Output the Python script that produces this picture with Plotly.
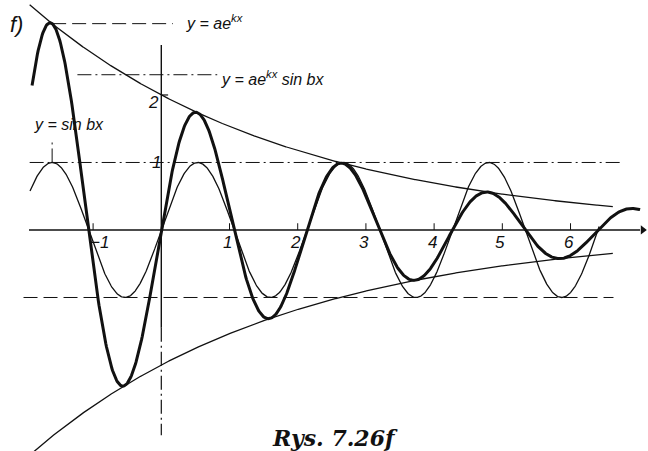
import numpy as np
import plotly.graph_objects as go

# Curve parameters: y = a e^{kx},  y = sin bx,  y = a e^{kx} sin bx
a = 2.0
k = -0.265
b = 2.944

# Drawn x-intervals of each curve
envelope_span = [-1.93, 6.62]
sine_span = [-1.925, 6.42]
product_span = [-1.895, 7.02]

# Axis ticks and their labels
x_ticks = [-1, 1, 2, 3, 4, 5, 6]
x_tick_labels = ["\u22121", "1", "2", "3", "4", "5", "6"]
y_ticks = [1, 2]
y_tick_labels = ["1", "2"]

# Plot window (data units)
X_RANGE = [-2.365, 7.136]
Y_RANGE = [-3.274, 3.407]

INK = "#111111"
FONT_LABEL = "Liberation Sans"


def grid(span, n=900):
    return np.linspace(span[0], span[1], n)


xe = grid(envelope_span)
xs = grid(sine_span)
xp = grid(product_span)

upper = a * np.exp(k * xe)
lower = -a * np.exp(k * xe)
sine = np.sin(b * xs)
product = a * np.exp(k * xp) * np.sin(b * xp)

fig = go.Figure()

# envelopes
fig.add_trace(go.Scatter(x=xe, y=upper, mode="lines",
                         line=dict(color=INK, width=1.3), hoverinfo="skip"))
fig.add_trace(go.Scatter(x=xe, y=lower, mode="lines",
                         line=dict(color=INK, width=1.3), hoverinfo="skip"))
# y = sin bx
fig.add_trace(go.Scatter(x=xs, y=sine, mode="lines",
                         line=dict(color=INK, width=1.3), hoverinfo="skip"))
# y = a e^{kx} sin bx
fig.add_trace(go.Scatter(x=xp, y=product, mode="lines",
                         line=dict(color=INK, width=3.0), hoverinfo="skip"))

# arrowhead at the end of the x axis
fig.add_trace(go.Scatter(x=[7.06], y=[0], mode="markers",
                         marker=dict(symbol="triangle-right", size=8, color=INK),
                         hoverinfo="skip"))

DASH = "14px,6px"
DASHDOT = "14px,4px,2px,4px"

shapes = []


def seg(x0, y0, x1, y1, width=1.2, dash=None):
    line = dict(color=INK, width=width)
    if dash:
        line["dash"] = dash
    shapes.append(dict(type="line", xref="x", yref="y",
                       x0=x0, y0=y0, x1=x1, y1=y1, line=line))


# x axis
seg(-1.94, 0, 7.02, 0, width=1.4)
# y axis: solid upper part, dash-dotted lower part
seg(0, 2.74, 0, -1.45, width=1.4)
seg(0, -1.45, 0, -3.04, width=1.2, dash=DASHDOT)

# x tick marks
for t in x_ticks:
    seg(t, 0, t, 0.10, width=1.0)
# y tick mark at 2
seg(0, 2, 0.10, 2, width=1.2)

# guide lines at sin bx = +1 and -1
seg(-1.93, 1, 6.75, 1, width=1.0, dash=DASHDOT)
seg(-2.02, -1, 6.63, -1, width=1.0, dash=DASH)

# leader lines to the labels
x_top = (np.pi / 2 - 2 * np.pi) / b          # where sin bx = 1 on the left
y_top = a * np.exp(k * x_top)
seg(x_top, y_top, 0.17, y_top, width=1.0, dash=DASH)
seg(-1.23, 2.30, 0.82, 2.30, width=1.0, dash=DASHDOT)
seg(x_top, 1.0, x_top, 1.34, width=1.0, dash=DASHDOT)

annotations = []


def label(text, x, y, size=14, xanchor="left", xshift=0, yshift=0,
          family=FONT_LABEL, xref="x", yref="y"):
    annotations.append(dict(text=text, x=x, y=y, xref=xref, yref=yref,
                            showarrow=False, xanchor=xanchor, yanchor="middle",
                            xshift=xshift, yshift=yshift,
                            font=dict(family=family, size=size, color=INK)))


label("<i>y = ae<sup>kx</sup></i>", 0.34, 3.08, size=16)
label("<i>y = ae<sup>kx</sup> sin bx</i>", 0.85, 2.25, size=16)
label("<i>y = sin bx</i>", -1.90, 1.57, size=16)

for t, s in zip(x_ticks, x_tick_labels):
    dx = 6 if t < 0 else -2
    label(f"<i>{s}</i>", t, 0, size=17, xanchor="center", xshift=dx, yshift=-13)

label(f"<i>{y_tick_labels[0]}</i>", 0, y_ticks[0], size=17, xanchor="center", xshift=-5)
label(f"<i>{y_tick_labels[1]}</i>", 0, y_ticks[1], size=17, xanchor="center",
      xshift=-8, yshift=-8)

label("<i>f)</i>", 16 / 648, 1 - 25 / 451, size=22, xanchor="center",
      xref="paper", yref="paper")
label("<b><i>Rys. 7.26f</i></b>", 335 / 648, 1 - 438 / 451, size=22,
      xanchor="center", family="DejaVu Serif", xref="paper", yref="paper")

fig.update_layout(
    width=648, height=451,
    margin=dict(l=0, r=0, t=0, b=0),
    paper_bgcolor="white", plot_bgcolor="white",
    showlegend=False,
    shapes=shapes,
    annotations=annotations,
    xaxis=dict(range=X_RANGE, visible=False, fixedrange=True),
    yaxis=dict(range=Y_RANGE, visible=False, fixedrange=True),
)

fig.write_html("out.html")
